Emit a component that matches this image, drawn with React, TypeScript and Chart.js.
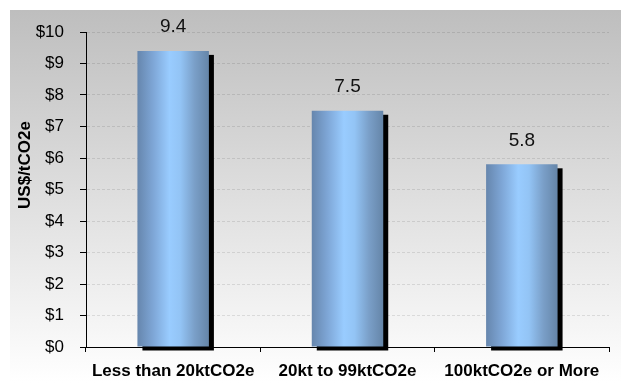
import React, { useEffect, useRef } from "react";
import { Chart, registerables } from "chart.js";

Chart.register(...registerables);

const categories = ["Less than 20ktCO2e", "20kt to 99ktCO2e", "100ktCO2e or More"];
const values = [9.4, 7.5, 5.8];
const valueLabels = ["9.4", "7.5", "5.8"];
const yMin = 0;
const yMax = 10;
const yStep = 1;
const axisTitle = "US$/tCO2e";

const FONT = "'Liberation Sans', Arial, Helvetica, sans-serif";

const bgPlugin = {
  id: "bgPlugin",
  beforeDraw(chart: any) {
    const { ctx, width, height } = chart;
    ctx.save();
    ctx.fillStyle = "#ffffff";
    ctx.fillRect(0, 0, width, height);
    const g = ctx.createLinearGradient(0, 10, 0, height);
    g.addColorStop(0, "#bebebe");
    g.addColorStop(1, "#ffffff");
    ctx.fillStyle = g;
    ctx.fillRect(10, 10, width - 10, height - 10);
    ctx.restore();
  },
};

const barPlugin = {
  id: "barPlugin",
  beforeDatasetsDraw(chart: any) {
    const ctx = chart.ctx;
    const meta = chart.getDatasetMeta(0);
    ctx.save();
    meta.data.forEach((bar: any) => {
      const { x, y, base, width } = bar.getProps(["x", "y", "base", "width"], true);
      const left = x - width / 2;
      ctx.fillStyle = "#000000";
      ctx.fillRect(left + 5, y + 4, width, base - y);
      const g = ctx.createLinearGradient(left, 0, left + width, 0);
      g.addColorStop(0, "#6686ad");
      g.addColorStop(0.22, "#7ea6d6");
      g.addColorStop(0.45, "#99ccff");
      g.addColorStop(0.6, "#93c4f5");
      g.addColorStop(0.8, "#7a9fc8");
      g.addColorStop(1, "#6585a8");
      bar.options = Object.assign({}, bar.options, { backgroundColor: g });
    });
    ctx.restore();
  },
  afterDatasetsDraw(chart: any) {
    const ctx = chart.ctx;
    const meta = chart.getDatasetMeta(0);
    ctx.save();
    ctx.fillStyle = "#111111";
    ctx.font = `19px ${FONT}`;
    ctx.textAlign = "center";
    ctx.textBaseline = "middle";
    meta.data.forEach((bar: any, i: number) => {
      const { x, y } = bar.getProps(["x", "y"], true);
      ctx.fillText(valueLabels[i], x, y - 24);
    });
    ctx.restore();
  },
  afterDraw(chart: any) {
    const ctx = chart.ctx;
    ctx.save();
    ctx.translate(25, 165);
    ctx.rotate(-Math.PI / 2);
    ctx.fillStyle = "#000000";
    ctx.font = `bold 17px ${FONT}`;
    ctx.textAlign = "center";
    ctx.textBaseline = "middle";
    ctx.fillText(axisTitle, 0, 0);
    ctx.restore();
  },
};

export default function App() {
  const ref = useRef<HTMLCanvasElement | null>(null);

  useEffect(() => {
    if (!ref.current) return;
    const chart = new Chart(ref.current, {
      type: "bar",
      data: {
        labels: categories,
        datasets: [
          {
            data: values,
            backgroundColor: () => "#88b4e4",
            borderWidth: 0,
            barPercentage: 0.41,
            categoryPercentage: 1,
          },
        ],
      },
      options: {
        responsive: false,
        animation: false,
        events: [],
        layout: { padding: { top: 32, right: 12, left: 0, bottom: 0 } },
        plugins: {
          legend: { display: false },
          tooltip: { enabled: false },
          title: { display: false },
        },
        scales: {
          x: {
            grid: {
              display: true,
              drawOnChartArea: false,
              drawTicks: true,
              tickLength: 5,
              color: "#000000",
              offset: true,
            },
            border: { color: "#000000", width: 1 },
            ticks: {
              font: { family: FONT, size: 17, weight: "bold" },
              color: "#000000",
              padding: 9,
              maxRotation: 0,
              autoSkip: false,
            },
            afterFit: (s: any) => {
              s.height = 36;
            },
          },
          y: {
            min: yMin,
            max: yMax,
            ticks: {
              stepSize: yStep,
              callback: (v: any) => "$" + v,
              font: { family: FONT, size: 17 },
              color: "#000000",
              padding: 16,
            },
            grid: {
              color: "rgba(0,0,0,0.1)",
              tickColor: "#000000",
              tickLength: 6,
              drawTicks: true,
            },
            border: { color: "#000000", width: 1, dash: [3, 2] },
            afterFit: (s: any) => {
              s.width = 86;
            },
          },
        },
      },
      plugins: [bgPlugin, barPlugin],
    } as any);
    return () => chart.destroy();
  }, []);

  return (
    <div style={{ position: "absolute", left: 0, top: 0, width: 621, height: 383 }}>
      <canvas ref={ref} width={621} height={383} style={{ display: "block" }} />
    </div>
  );
}
